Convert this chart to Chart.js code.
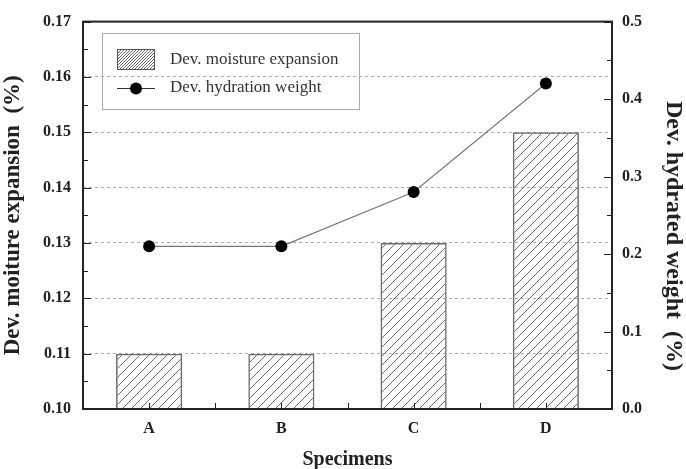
<!DOCTYPE html>
<html>
<head>
<meta charset="utf-8">
<script src="https://cdn.jsdelivr.net/npm/chart.js@4.4.1/dist/chart.umd.min.js"></script>
<style>
  html, body { margin: 0; padding: 0; background: #fff; }
  #contenedor { width: 686px; height: 469px; }
</style>
</head>
<body>
<div id="contenedor"><canvas id="grafico"></canvas></div>
<script>
// ===================================== Datos ==================
var especimenes = ["A", "B", "C", "D"];
var expansionHumedad = [0.11, 0.11, 0.13, 0.15];
var pesoHidratacion = [0.21, 0.21, 0.28, 0.42];
var ticksIzquierda = [0.10, 0.11, 0.12, 0.13, 0.14, 0.15, 0.16, 0.17];
var ticksDerecha = [0.0, 0.1, 0.2, 0.3, 0.4, 0.5];
var tituloDerecha = "Dev. hydrated weight  (%)";

var fuenteSerif = "'Liberation Serif', 'Times New Roman', serif";

// ===================================== Patrón rayado ==================
function crearRayado(paso, color, grosor) {
  var c = document.createElement("canvas");
  c.width = paso; c.height = paso;
  var g = c.getContext("2d");
  g.strokeStyle = color;
  g.lineWidth = grosor;
  g.beginPath();
  g.moveTo(0, paso); g.lineTo(paso, 0);
  g.moveTo(-1, 1); g.lineTo(1, -1);
  g.moveTo(paso - 1, paso + 1); g.lineTo(paso + 1, paso - 1);
  g.stroke();
  return document.getElementById("grafico").getContext("2d").createPattern(c, "repeat");
}

var rayadoBarras = crearRayado(9, "#6a6a6a", 1);
var rayadoLeyenda = crearRayado(3, "#666", 1);

// ===================================== Marco, ticks internos y leyenda ==================
var pluginMarco = {
  id: "marco",
  afterDraw(chart) {
    const ctx = chart.ctx;
    const a = chart.chartArea;
    const y = chart.scales.y, y1 = chart.scales.y1, x = chart.scales.x;

    ctx.save();
    ctx.strokeStyle = "#222";
    ctx.lineWidth = 1;
    ctx.beginPath();
    // ticks izquierda
    ticksIzquierda.forEach((v, i) => {
      const p = Math.round(y.getPixelForValue(v)) + 0.5;
      ctx.moveTo(a.left, p); ctx.lineTo(a.left + 8, p);
      if (i < ticksIzquierda.length - 1) {
        const m = Math.round(y.getPixelForValue(v + 0.005)) + 0.5;
        ctx.moveTo(a.left, m); ctx.lineTo(a.left + 5, m);
      }
    });
    // ticks derecha
    ticksDerecha.forEach((v, i) => {
      const p = Math.round(y1.getPixelForValue(v)) + 0.5;
      ctx.moveTo(a.right, p); ctx.lineTo(a.right - 8, p);
      if (i < ticksDerecha.length - 1) {
        const m = Math.round(y1.getPixelForValue(v + 0.05)) + 0.5;
        ctx.moveTo(a.right, m); ctx.lineTo(a.right - 5, m);
      }
    });
    // ticks eje x (centros y bordes de categoría)
    const ancho = (a.right - a.left) / especimenes.length;
    especimenes.forEach((e, i) => {
      const c = Math.round(x.getPixelForValue(i)) + 0.5;
      ctx.moveTo(c, a.bottom); ctx.lineTo(c, a.bottom - 6);
      if (i > 0) {
        const b = Math.round(a.left + ancho * i) + 0.5;
        ctx.moveTo(b, a.bottom); ctx.lineTo(b, a.bottom - 6);
      }
    });
    ctx.stroke();

    // marco
    ctx.lineWidth = 2;
    ctx.strokeRect(a.left, a.top, a.right - a.left, a.bottom - a.top);

    // título eje derecho (un poco más abajo que el centro, como el original)
    ctx.save();
    ctx.translate(673, 236);
    ctx.rotate(Math.PI / 2);
    ctx.fillStyle = "#222";
    ctx.font = "bold 24px " + fuenteSerif;
    ctx.textAlign = "center";
    ctx.textBaseline = "middle";
    ctx.fillText(tituloDerecha, 0, 0);
    ctx.restore();

    // leyenda
    ctx.lineWidth = 1;
    ctx.strokeStyle = "#aaa";
    ctx.strokeRect(102.5, 33.5, 257, 76);

    ctx.fillStyle = rayadoLeyenda;
    ctx.fillRect(117, 49, 38, 21);
    ctx.strokeStyle = "#555";
    ctx.strokeRect(117.5, 49.5, 37, 20);

    ctx.strokeStyle = "#333";
    ctx.beginPath();
    ctx.moveTo(117, 88.5); ctx.lineTo(155, 88.5);
    ctx.stroke();
    ctx.fillStyle = "#000";
    ctx.beginPath();
    ctx.arc(136, 88.5, 6, 0, Math.PI * 2);
    ctx.fill();

    ctx.fillStyle = "#333";
    ctx.font = "17px " + fuenteSerif;
    ctx.textBaseline = "middle";
    ctx.textAlign = "left";
    ctx.fillText(chart.data.datasets[0].label, 170, 60);
    ctx.fillText(chart.data.datasets[1].label, 170, 88);
    ctx.restore();
  }
};

// ===================================== Gráfico ==================
var grafico = new Chart(document.getElementById("grafico"), {
  type: "bar",
  data: {
    labels: especimenes,
    datasets: [
      {
        type: "bar",
        label: "Dev. moisture expansion",
        data: expansionHumedad,
        yAxisID: "y",
        backgroundColor: rayadoBarras,
        borderColor: "#6a6a6a",
        borderWidth: 1.5,
        borderSkipped: false,
        barPercentage: 0.5,
        categoryPercentage: 1,
        order: 2
      },
      {
        type: "line",
        label: "Dev. hydration weight",
        data: pesoHidratacion,
        yAxisID: "y1",
        borderColor: "#777",
        borderWidth: 1.2,
        pointRadius: 6,
        pointBackgroundColor: "#000",
        pointBorderColor: "#000",
        pointBorderWidth: 0,
        tension: 0,
        order: 1
      }
    ]
  },
  plugins: [pluginMarco],
  options: {
    responsive: true,
    maintainAspectRatio: false,
    animation: false,
    layout: { padding: { top: 20 } },
    plugins: {
      legend: { display: false },
      tooltip: { enabled: false }
    },
    scales: {
      x: {
        offset: true,
        grid: { display: false, drawTicks: false },
        border: { display: false },
        ticks: { padding: 10, color: "#222", font: { family: fuenteSerif, size: 16, weight: "bold" } },
        title: {
          display: true, text: "Specimens", color: "#222",
          font: { family: fuenteSerif, size: 20, weight: "bold" },
          padding: { top: 0, bottom: -3 }
        },
        afterFit(s) { s.height = 60; }
      },
      y: {
        position: "left",
        min: 0.10,
        max: 0.17,
        afterBuildTicks(s) { s.ticks = ticksIzquierda.map(v => ({ value: v })); },
        grid: {
          drawTicks: false,
          lineWidth: 1,
          color: c => (c.index === 0 || c.index === ticksIzquierda.length - 1) ? "rgba(0,0,0,0)" : "#aaa"
        },
        border: { display: false, dash: [3, 3] },
        ticks: {
          padding: 12, color: "#222",
          font: { family: fuenteSerif, size: 16, weight: "bold" },
          callback: v => v.toFixed(2)
        },
        title: {
          display: true, text: "Dev. moiture expansion  (%)", color: "#222",
          font: { family: fuenteSerif, size: 23, weight: "bold" },
          padding: { top: -1, bottom: 0 }
        },
        afterFit(s) { s.width = 83; }
      },
      y1: {
        position: "right",
        min: 0,
        max: 0.5,
        afterBuildTicks(s) { s.ticks = ticksDerecha.map(v => ({ value: v })); },
        grid: { display: false, drawTicks: false },
        border: { display: false },
        ticks: {
          padding: 10, color: "#222",
          font: { family: fuenteSerif, size: 16, weight: "bold" },
          callback: v => v.toFixed(1)
        },
        title: { display: false },
        afterFit(s) { s.width = 74; }
      }
    }
  }
});
</script>
</body>
</html>
